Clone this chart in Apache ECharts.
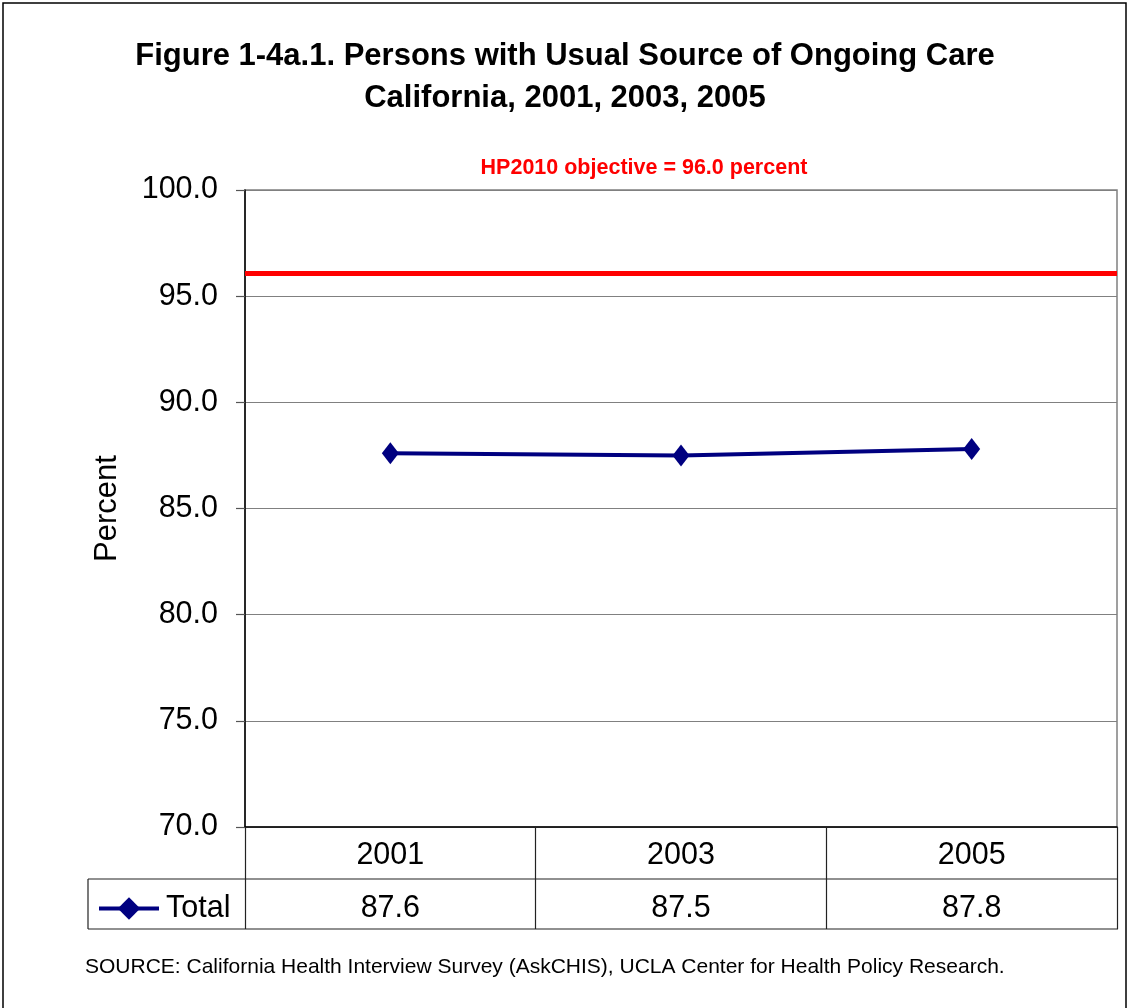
<!DOCTYPE html>
<html>
<head>
<meta charset="utf-8">
<script src="https://cdn.jsdelivr.net/npm/echarts@6/dist/echarts.min.js"></script>
<style>
html,body{margin:0;padding:0;background:#fff;}
#chart{width:1130px;height:1008px;}
</style>
</head>
<body>
<div id="chart"></div>
<script>
var years = ['2001', '2003', '2005'];
var totalValues = [87.6, 87.5, 87.8];
var objectiveValue = 96.1;
var yTicks = { min: 70, max: 100, interval: 5 };
var titleLines = ['Figure 1-4a.1. Persons with Usual Source of Ongoing Care', 'California, 2001, 2003, 2005'];
var objectiveLabel = 'HP2010 objective = 96.0 percent';
var sourceText = 'SOURCE: California Health Interview Survey (AskCHIS), UCLA Center for Health Policy Research.';

var FONT = '"Liberation Sans", Arial, sans-serif';
var chart = echarts.init(document.getElementById('chart'), null, { renderer: 'canvas' });

var option = {
  backgroundColor: '#fff',
  animation: false,
  title: [{
    text: titleLines.join('\n'),
    left: 'center',
    top: 35,
    padding: 0,
    textStyle: { fontFamily: FONT, fontWeight: 'bold', fontSize: 31, lineHeight: 42, color: '#000' }
  }, {
    text: objectiveLabel,
    left: 644,
    textAlign: 'center',
    top: 157,
    padding: 0,
    textStyle: { fontFamily: FONT, fontWeight: 'bold', fontSize: 21.5, color: '#ff0000' }
  }, {
    text: sourceText,
    left: 85,
    top: 957,
    padding: 0,
    textStyle: { fontFamily: FONT, fontWeight: 'normal', fontSize: 21, color: '#000' }
  }],
  legend: {
    left: 97,
    top: 893,
    padding: 0,
    itemWidth: 60,
    itemHeight: 28,
    itemGap: 6,
    lineStyle: { width: 4 },
    textStyle: { fontFamily: FONT, fontSize: 30.5, color: '#000', padding: [0, 0, 0, 2] },
    data: ['Total']
  },
  grid: {
    left: 245, right: 13, top: 190, bottom: 181,
    show: true, borderColor: '#808080', borderWidth: 1.5
  },
  xAxis: {
    type: 'category',
    data: years,
    boundaryGap: true,
    axisLine: { show: true, lineStyle: { color: '#000', width: 1.5 } },
    axisTick: { show: true, length: 102, lineStyle: { color: '#222', width: 1.2 } },
    axisLabel: {
      margin: 3,
      formatter: function (v, i) { return '{y|' + v + '}\n{v|' + totalValues[i].toFixed(1) + '}'; },
      rich: {
        y: { fontFamily: FONT, fontSize: 30.5, color: '#000', lineHeight: 52 },
        v: { fontFamily: FONT, fontSize: 30.5, color: '#000', lineHeight: 54 }
      }
    }
  },
  yAxis: {
    type: 'value',
    min: yTicks.min, max: yTicks.max, interval: yTicks.interval,
    name: 'Percent',
    nameLocation: 'middle',
    nameRotate: 90,
    nameGap: 122,
    nameTextStyle: { fontFamily: FONT, fontSize: 31, color: '#000' },
    axisLine: { show: true, lineStyle: { color: '#000', width: 1.5 } },
    axisTick: { show: true, length: 9, lineStyle: { color: '#555', width: 1.2 } },
    axisLabel: {
      margin: 27,
      fontFamily: FONT, fontSize: 30.5, color: '#000',
      formatter: function (v) { return v.toFixed(1); }
    },
    splitLine: { show: true, lineStyle: { color: '#808080', width: 1.2 } }
  },
  series: [{
    name: 'Total',
    type: 'line',
    data: totalValues,
    symbol: 'diamond',
    symbolSize: [17, 22],
    itemStyle: { color: '#000080' },
    lineStyle: { color: '#000080', width: 4 },
    markLine: {
      silent: true,
      symbol: ['none', 'none'],
      label: { show: false },
      lineStyle: { color: '#ff0000', width: 5, type: 'solid' },
      data: [{ yAxis: objectiveValue }]
    }
  }],
  graphic: [
    { type: 'rect', shape: { x: 3, y: 3, width: 1123, height: 1020 }, style: { fill: 'none', stroke: '#000', lineWidth: 1.5 }, z: 100 },
    { type: 'line', shape: { x1: 88, y1: 879, x2: 1118, y2: 879 }, style: { stroke: '#222', lineWidth: 1.2 } },
    { type: 'line', shape: { x1: 88, y1: 929, x2: 1118, y2: 929 }, style: { stroke: '#222', lineWidth: 1.2 } },
    { type: 'line', shape: { x1: 88, y1: 879, x2: 88, y2: 929 }, style: { stroke: '#222', lineWidth: 1.2 } }
  ]
};
chart.setOption(option);
</script>
</body>
</html>
